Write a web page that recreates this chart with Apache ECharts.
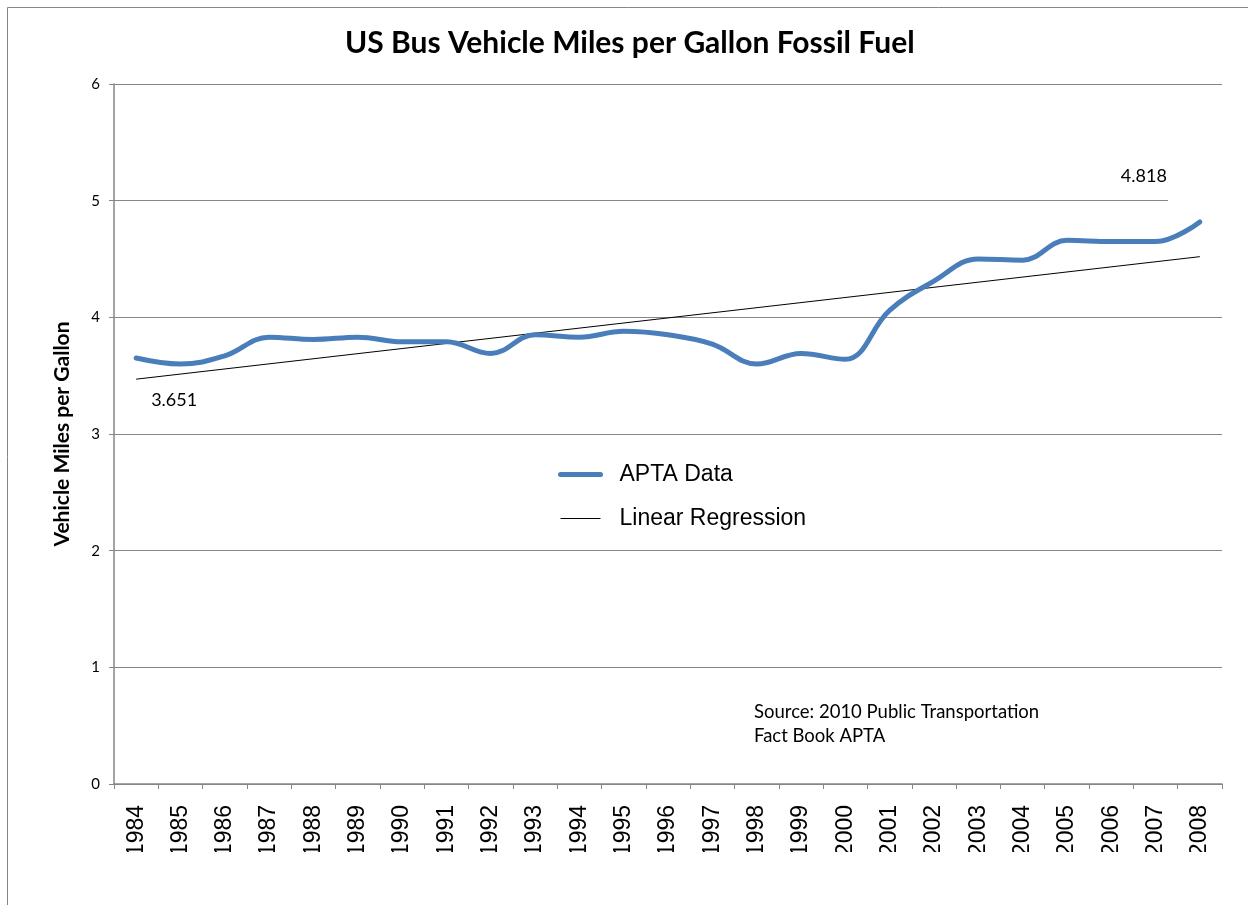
<!DOCTYPE html>
<html>
<head>
<meta charset="utf-8">
<script src="https://cdn.jsdelivr.net/npm/echarts@6/dist/echarts.min.js"></script>
<style>
html, body { margin: 0; padding: 0; background: #fff; }
#chart { width: 1248px; height: 905px; }
</style>
</head>
<body>
<div id="chart"></div>
<script>
const years = ['1984', '1985', '1986', '1987', '1988', '1989', '1990', '1991', '1992', '1993', '1994', '1995', '1996',
    '1997', '1998', '1999', '2000', '2001', '2002', '2003', '2004', '2005', '2006', '2007', '2008']
const aptaData = [3.651, 3.60, 3.67, 3.83, 3.81, 3.83, 3.79, 3.79, 3.69, 3.85, 3.83, 3.88, 3.85,
    3.77, 3.60, 3.69, 3.64, 4.06, 4.31, 4.50, 4.49, 4.66, 4.65, 4.65, 4.818]
// regression line read at its two ends (1984, 2008)
const regressionEnds = [3.47, 4.52]
const yTicks = [0, 1, 2, 3, 4, 5, 6]

const gray = '#868686'
const calibri = 'Lato'
const last = years.length - 1

const regSeries = years.map((y, i) => {
    if (i === 0) return regressionEnds[0]
    if (i === last) return regressionEnds[1]
    return null
})

const chart = echarts.init(document.getElementById('chart'))
const option = {
    animation: false,
    backgroundColor: '#fff',
    title: {
        text: 'US Bus Vehicle Miles per Gallon Fossil Fuel',
        left: 340,
        top: 23,
        textStyle: { fontFamily: calibri, fontWeight: 'bold', fontSize: 30, color: '#000' }
    },
    grid: { left: 114, right: 26, top: 84, bottom: 121 },
    legend: {
        orient: 'vertical',
        left: 553,
        top: 458,
        itemWidth: 40,
        itemHeight: 20,
        itemGap: 21,
        textStyle: { fontFamily: 'Liberation Sans', fontSize: 23, color: '#000', padding: [0, 0, 0, 14] },
        data: [
            { name: 'APTA Data', lineStyle: { width: 5, cap: 'round' }, itemStyle: { opacity: 0 } },
            { name: 'Linear Regression', lineStyle: { width: 1 }, itemStyle: { opacity: 0 } }
        ]
    },
    xAxis: {
        type: 'category',
        data: years,
        boundaryGap: true,
        axisLine: { lineStyle: { color: gray, width: 1.5 } },
        axisTick: { show: true, length: 5, lineStyle: { color: gray } },
        axisLabel: { rotate: 90, fontFamily: 'Liberation Sans', fontSize: 23, color: '#000', margin: 21 },
        splitLine: { show: false }
    },
    yAxis: {
        type: 'value',
        min: yTicks[0],
        max: yTicks[yTicks.length - 1],
        interval: 1,
        name: 'Vehicle Miles per Gallon',
        nameLocation: 'middle',
        nameRotate: 90,
        nameGap: 41,
        nameTextStyle: { fontFamily: calibri, fontWeight: 'bold', fontSize: 21, color: '#000' },
        axisLine: { show: true, lineStyle: { color: gray, width: 1.5 } },
        axisTick: { show: true, length: 5, lineStyle: { color: gray } },
        axisLabel: { fontFamily: calibri, fontSize: 15, color: '#000', margin: 14 },
        splitLine: { show: true, lineStyle: { color: gray, width: 1 } }
    },
    series: [
        {
            name: 'APTA Data',
            type: 'line',
            data: aptaData,
            smooth: 0.4,
            symbol: 'none',
            color: '#4A7EBB',
            lineStyle: { color: '#4A7EBB', width: 5, cap: 'round' },
            markPoint: {
                symbol: 'circle',
                symbolSize: 0,
                silent: true,
                label: { show: true, formatter: '{c}', fontFamily: calibri, fontSize: 18, color: '#000', position: 'inside' },
                data: [
                    { coord: [years[0], aptaData[0]], value: aptaData[0], label: { offset: [38, 42] } },
                    { coord: [years[last], aptaData[last]], value: aptaData[last], label: { offset: [-56, -46] } }
                ]
            },
            z: 3
        },
        {
            name: 'Linear Regression',
            type: 'line',
            data: regSeries,
            connectNulls: true,
            symbol: 'none',
            color: '#000',
            lineStyle: { color: '#000', width: 1 },
            z: 2
        }
    ],
    graphic: [
        {
            type: 'rect',
            shape: { x: 7.5, y: 7.5, width: 1400, height: 1100 },
            style: { fill: null, stroke: gray, lineWidth: 1 },
            silent: true
        },
        {
            type: 'rect',
            shape: { x: 1168, y: 197, width: 56, height: 6 },
            style: { fill: '#fff' },
            silent: true,
            z: 10
        },
        {
            // the year labels are cut off at the bottom in the original
            type: 'rect',
            shape: { x: 100, y: 852, width: 1140, height: 60 },
            style: { fill: '#fff' },
            silent: true,
            z: 10
        },
        {
            type: 'text',
            left: 754,
            top: 700,
            style: {
                text: 'Source: 2010 Public Transportation\nFact Book APTA',
                fontFamily: calibri,
                fontSize: 18.5,
                lineHeight: 24,
                fill: '#000'
            }
        }
    ]
}
chart.setOption(option)
</script>
</body>
</html>
